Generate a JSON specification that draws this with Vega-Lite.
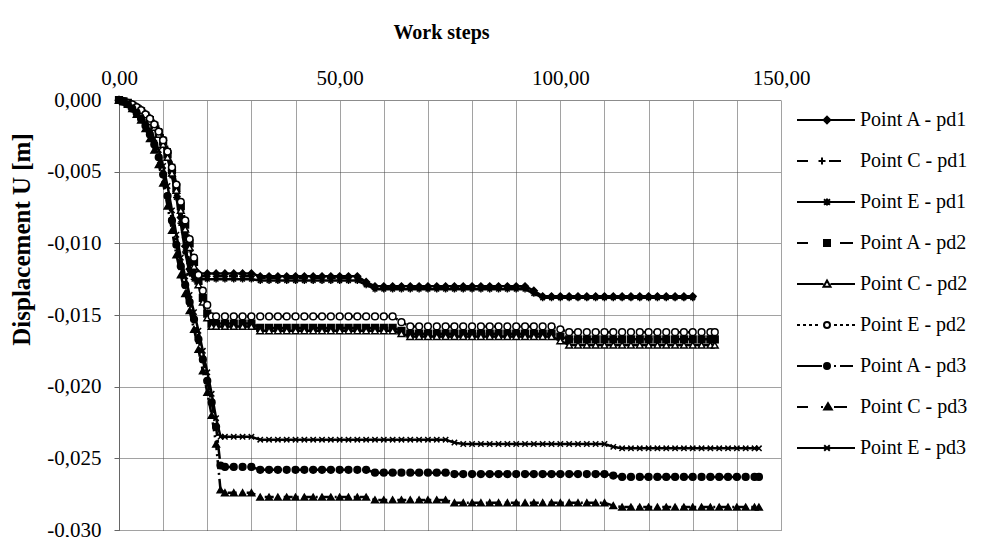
{
"$schema": "https://vega.github.io/schema/vega-lite/v6.json",
"width": 662, "height": 430,
"autosize": {"type": "none"},
"padding": {"left": 119, "top": 100, "right": 201, "bottom": 7},
"background": "white",
"config": {"view": {"stroke": null}, "font": "Liberation Serif",
 "axis": {"labelFont": "Liberation Serif", "titleFont": "Liberation Serif"},
 "legend": {"labelFont": "Liberation Serif", "titleFont": "Liberation Serif"}},
"data": {"values": [
{"s":"A1","x":0,"y":0},{"s":"A1","x":1,"y":-0.0001},{"s":"A1","x":2,"y":-0.0002},{"s":"A1","x":3,"y":-0.0003},{"s":"A1","x":4,"y":-0.0005},{"s":"A1","x":5,"y":-0.0007},{"s":"A1","x":6,"y":-0.001},{"s":"A1","x":7,"y":-0.0013},{"s":"A1","x":8,"y":-0.0017},{"s":"A1","x":9,"y":-0.0022},{"s":"A1","x":10,"y":-0.0028},{"s":"A1","x":11,"y":-0.0037},{"s":"A1","x":12,"y":-0.0049},{"s":"A1","x":13,"y":-0.0064},{"s":"A1","x":14,"y":-0.0082},{"s":"A1","x":15,"y":-0.0102},{"s":"A1","x":16,"y":-0.0118},{"s":"A1","x":17,"y":-0.0121},
{"s":"A1","x":18,"y":-0.0121},{"s":"A1","x":20,"y":-0.0121},{"s":"A1","x":22,"y":-0.0121},{"s":"A1","x":24,"y":-0.0121},{"s":"A1","x":26,"y":-0.0121},{"s":"A1","x":28,"y":-0.0121},{"s":"A1","x":30,"y":-0.0121},{"s":"A1","x":32,"y":-0.0123},{"s":"A1","x":34,"y":-0.0123},{"s":"A1","x":36,"y":-0.0123},{"s":"A1","x":38,"y":-0.0123},{"s":"A1","x":40,"y":-0.0123},{"s":"A1","x":42,"y":-0.0123},{"s":"A1","x":44,"y":-0.0123},{"s":"A1","x":46,"y":-0.0123},{"s":"A1","x":48,"y":-0.0123},{"s":"A1","x":50,"y":-0.0123},{"s":"A1","x":52,"y":-0.0123},{"s":"A1","x":54,"y":-0.0123},{"s":"A1","x":56,"y":-0.0127},{"s":"A1","x":58,"y":-0.013},{"s":"A1","x":60,"y":-0.013},{"s":"A1","x":62,"y":-0.013},{"s":"A1","x":64,"y":-0.013},{"s":"A1","x":66,"y":-0.013},{"s":"A1","x":68,"y":-0.013},{"s":"A1","x":70,"y":-0.013},{"s":"A1","x":72,"y":-0.013},{"s":"A1","x":74,"y":-0.013},{"s":"A1","x":76,"y":-0.013},{"s":"A1","x":78,"y":-0.013},{"s":"A1","x":80,"y":-0.013},{"s":"A1","x":82,"y":-0.013},{"s":"A1","x":84,"y":-0.013},{"s":"A1","x":86,"y":-0.013},{"s":"A1","x":88,"y":-0.013},{"s":"A1","x":90,"y":-0.013},{"s":"A1","x":92,"y":-0.013},{"s":"A1","x":94,"y":-0.0133},{"s":"A1","x":96,"y":-0.0137},{"s":"A1","x":98,"y":-0.0137},{"s":"A1","x":100,"y":-0.0137},{"s":"A1","x":102,"y":-0.0137},{"s":"A1","x":104,"y":-0.0137},{"s":"A1","x":106,"y":-0.0137},{"s":"A1","x":108,"y":-0.0137},{"s":"A1","x":110,"y":-0.0137},{"s":"A1","x":112,"y":-0.0137},{"s":"A1","x":114,"y":-0.0137},{"s":"A1","x":116,"y":-0.0137},{"s":"A1","x":118,"y":-0.0137},{"s":"A1","x":120,"y":-0.0137},{"s":"A1","x":122,"y":-0.0137},{"s":"A1","x":124,"y":-0.0137},{"s":"A1","x":126,"y":-0.0137},{"s":"A1","x":128,"y":-0.0137},{"s":"A1","x":130,"y":-0.0137},
{"s":"C1","x":0,"y":0},{"s":"C1","x":1,"y":-0.0001},{"s":"C1","x":2,"y":-0.0002},{"s":"C1","x":3,"y":-0.0003},{"s":"C1","x":4,"y":-0.0004},{"s":"C1","x":5,"y":-0.0006},{"s":"C1","x":6,"y":-0.0009},{"s":"C1","x":7,"y":-0.0012},{"s":"C1","x":8,"y":-0.0016},{"s":"C1","x":9,"y":-0.002},{"s":"C1","x":10,"y":-0.0026},{"s":"C1","x":11,"y":-0.0034},{"s":"C1","x":12,"y":-0.0045},{"s":"C1","x":13,"y":-0.0059},{"s":"C1","x":14,"y":-0.0076},{"s":"C1","x":15,"y":-0.0096},{"s":"C1","x":16,"y":-0.0114},{"s":"C1","x":17,"y":-0.0123},
{"s":"C1","x":18,"y":-0.0123},{"s":"C1","x":20,"y":-0.0123},{"s":"C1","x":22,"y":-0.0123},{"s":"C1","x":24,"y":-0.0123},{"s":"C1","x":26,"y":-0.0123},{"s":"C1","x":28,"y":-0.0123},{"s":"C1","x":30,"y":-0.0123},{"s":"C1","x":32,"y":-0.0124},{"s":"C1","x":34,"y":-0.0124},{"s":"C1","x":36,"y":-0.0124},{"s":"C1","x":38,"y":-0.0124},{"s":"C1","x":40,"y":-0.0124},{"s":"C1","x":42,"y":-0.0124},{"s":"C1","x":44,"y":-0.0124},{"s":"C1","x":46,"y":-0.0124},{"s":"C1","x":48,"y":-0.0124},{"s":"C1","x":50,"y":-0.0124},{"s":"C1","x":52,"y":-0.0124},{"s":"C1","x":54,"y":-0.0124},{"s":"C1","x":56,"y":-0.0128},{"s":"C1","x":58,"y":-0.0131},{"s":"C1","x":60,"y":-0.0131},{"s":"C1","x":62,"y":-0.0131},{"s":"C1","x":64,"y":-0.0131},{"s":"C1","x":66,"y":-0.0131},{"s":"C1","x":68,"y":-0.0131},{"s":"C1","x":70,"y":-0.0131},{"s":"C1","x":72,"y":-0.0131},{"s":"C1","x":74,"y":-0.0131},{"s":"C1","x":76,"y":-0.0131},{"s":"C1","x":78,"y":-0.0131},{"s":"C1","x":80,"y":-0.0131},{"s":"C1","x":82,"y":-0.0131},{"s":"C1","x":84,"y":-0.0131},{"s":"C1","x":86,"y":-0.0131},{"s":"C1","x":88,"y":-0.0131},{"s":"C1","x":90,"y":-0.0131},{"s":"C1","x":92,"y":-0.0131},{"s":"C1","x":94,"y":-0.0134},{"s":"C1","x":96,"y":-0.0137},{"s":"C1","x":98,"y":-0.0137},{"s":"C1","x":100,"y":-0.0137},{"s":"C1","x":102,"y":-0.0137},{"s":"C1","x":104,"y":-0.0137},{"s":"C1","x":106,"y":-0.0137},{"s":"C1","x":108,"y":-0.0137},{"s":"C1","x":110,"y":-0.0137},{"s":"C1","x":112,"y":-0.0137},{"s":"C1","x":114,"y":-0.0137},{"s":"C1","x":116,"y":-0.0137},{"s":"C1","x":118,"y":-0.0137},{"s":"C1","x":120,"y":-0.0137},{"s":"C1","x":122,"y":-0.0137},{"s":"C1","x":124,"y":-0.0137},{"s":"C1","x":126,"y":-0.0137},{"s":"C1","x":128,"y":-0.0137},{"s":"C1","x":130,"y":-0.0137},
{"s":"E1","x":0,"y":0},{"s":"E1","x":1,"y":-0.0001},{"s":"E1","x":2,"y":-0.0002},{"s":"E1","x":3,"y":-0.0004},{"s":"E1","x":4,"y":-0.0005},{"s":"E1","x":5,"y":-0.0008},{"s":"E1","x":6,"y":-0.0011},{"s":"E1","x":7,"y":-0.0014},{"s":"E1","x":8,"y":-0.0019},{"s":"E1","x":9,"y":-0.0024},{"s":"E1","x":10,"y":-0.003},{"s":"E1","x":11,"y":-0.004},{"s":"E1","x":12,"y":-0.0053},{"s":"E1","x":13,"y":-0.0068},{"s":"E1","x":14,"y":-0.0086},{"s":"E1","x":15,"y":-0.0106},{"s":"E1","x":16,"y":-0.0121},{"s":"E1","x":17,"y":-0.0125},
{"s":"E1","x":18,"y":-0.0125},{"s":"E1","x":20,"y":-0.0125},{"s":"E1","x":22,"y":-0.0125},{"s":"E1","x":24,"y":-0.0125},{"s":"E1","x":26,"y":-0.0125},{"s":"E1","x":28,"y":-0.0125},{"s":"E1","x":30,"y":-0.0125},{"s":"E1","x":32,"y":-0.0126},{"s":"E1","x":34,"y":-0.0126},{"s":"E1","x":36,"y":-0.0126},{"s":"E1","x":38,"y":-0.0126},{"s":"E1","x":40,"y":-0.0126},{"s":"E1","x":42,"y":-0.0126},{"s":"E1","x":44,"y":-0.0126},{"s":"E1","x":46,"y":-0.0126},{"s":"E1","x":48,"y":-0.0126},{"s":"E1","x":50,"y":-0.0126},{"s":"E1","x":52,"y":-0.0126},{"s":"E1","x":54,"y":-0.0126},{"s":"E1","x":56,"y":-0.0129},{"s":"E1","x":58,"y":-0.0132},{"s":"E1","x":60,"y":-0.0132},{"s":"E1","x":62,"y":-0.0132},{"s":"E1","x":64,"y":-0.0132},{"s":"E1","x":66,"y":-0.0132},{"s":"E1","x":68,"y":-0.0132},{"s":"E1","x":70,"y":-0.0132},{"s":"E1","x":72,"y":-0.0132},{"s":"E1","x":74,"y":-0.0132},{"s":"E1","x":76,"y":-0.0132},{"s":"E1","x":78,"y":-0.0132},{"s":"E1","x":80,"y":-0.0132},{"s":"E1","x":82,"y":-0.0132},{"s":"E1","x":84,"y":-0.0132},{"s":"E1","x":86,"y":-0.0132},{"s":"E1","x":88,"y":-0.0132},{"s":"E1","x":90,"y":-0.0132},{"s":"E1","x":92,"y":-0.0132},{"s":"E1","x":94,"y":-0.0135},{"s":"E1","x":96,"y":-0.0138},{"s":"E1","x":98,"y":-0.0138},{"s":"E1","x":100,"y":-0.0138},{"s":"E1","x":102,"y":-0.0138},{"s":"E1","x":104,"y":-0.0138},{"s":"E1","x":106,"y":-0.0138},{"s":"E1","x":108,"y":-0.0138},{"s":"E1","x":110,"y":-0.0138},{"s":"E1","x":112,"y":-0.0138},{"s":"E1","x":114,"y":-0.0138},{"s":"E1","x":116,"y":-0.0138},{"s":"E1","x":118,"y":-0.0138},{"s":"E1","x":120,"y":-0.0138},{"s":"E1","x":122,"y":-0.0138},{"s":"E1","x":124,"y":-0.0138},{"s":"E1","x":126,"y":-0.0138},{"s":"E1","x":128,"y":-0.0138},{"s":"E1","x":130,"y":-0.0138},
{"s":"A2","x":0,"y":0},{"s":"A2","x":1,"y":-0.0001},{"s":"A2","x":2,"y":-0.0002},{"s":"A2","x":3,"y":-0.0004},{"s":"A2","x":4,"y":-0.0006},{"s":"A2","x":5,"y":-0.0008},{"s":"A2","x":6,"y":-0.0011},{"s":"A2","x":7,"y":-0.0014},{"s":"A2","x":8,"y":-0.0018},{"s":"A2","x":9,"y":-0.0023},{"s":"A2","x":10,"y":-0.0029},{"s":"A2","x":11,"y":-0.0038},{"s":"A2","x":12,"y":-0.0049},{"s":"A2","x":13,"y":-0.0061},{"s":"A2","x":14,"y":-0.0074},{"s":"A2","x":15,"y":-0.0087},{"s":"A2","x":16,"y":-0.01},{"s":"A2","x":17,"y":-0.0113},{"s":"A2","x":18,"y":-0.0126},{"s":"A2","x":19,"y":-0.0138},{"s":"A2","x":20,"y":-0.0149},{"s":"A2","x":21,"y":-0.0156},
{"s":"A2","x":22,"y":-0.0156},{"s":"A2","x":24,"y":-0.0156},{"s":"A2","x":26,"y":-0.0156},{"s":"A2","x":28,"y":-0.0156},{"s":"A2","x":30,"y":-0.0156},{"s":"A2","x":32,"y":-0.0159},{"s":"A2","x":34,"y":-0.0159},{"s":"A2","x":36,"y":-0.0159},{"s":"A2","x":38,"y":-0.0159},{"s":"A2","x":40,"y":-0.0159},{"s":"A2","x":42,"y":-0.0159},{"s":"A2","x":44,"y":-0.0159},{"s":"A2","x":46,"y":-0.0159},{"s":"A2","x":48,"y":-0.0159},{"s":"A2","x":50,"y":-0.0159},{"s":"A2","x":52,"y":-0.0159},{"s":"A2","x":54,"y":-0.0159},{"s":"A2","x":56,"y":-0.0159},{"s":"A2","x":58,"y":-0.0159},{"s":"A2","x":60,"y":-0.0159},{"s":"A2","x":62,"y":-0.0159},{"s":"A2","x":64,"y":-0.0161},{"s":"A2","x":66,"y":-0.0163},{"s":"A2","x":68,"y":-0.0163},{"s":"A2","x":70,"y":-0.0163},{"s":"A2","x":72,"y":-0.0163},{"s":"A2","x":74,"y":-0.0163},{"s":"A2","x":76,"y":-0.0163},{"s":"A2","x":78,"y":-0.0163},{"s":"A2","x":80,"y":-0.0163},{"s":"A2","x":82,"y":-0.0163},{"s":"A2","x":84,"y":-0.0163},{"s":"A2","x":86,"y":-0.0163},{"s":"A2","x":88,"y":-0.0163},{"s":"A2","x":90,"y":-0.0163},{"s":"A2","x":92,"y":-0.0163},{"s":"A2","x":94,"y":-0.0163},{"s":"A2","x":96,"y":-0.0163},{"s":"A2","x":98,"y":-0.0163},{"s":"A2","x":100,"y":-0.0165},{"s":"A2","x":102,"y":-0.0167},{"s":"A2","x":104,"y":-0.0167},{"s":"A2","x":106,"y":-0.0167},{"s":"A2","x":108,"y":-0.0167},{"s":"A2","x":110,"y":-0.0167},{"s":"A2","x":112,"y":-0.0167},{"s":"A2","x":114,"y":-0.0167},{"s":"A2","x":116,"y":-0.0167},{"s":"A2","x":118,"y":-0.0167},{"s":"A2","x":120,"y":-0.0167},{"s":"A2","x":122,"y":-0.0167},{"s":"A2","x":124,"y":-0.0167},{"s":"A2","x":126,"y":-0.0167},{"s":"A2","x":128,"y":-0.0167},{"s":"A2","x":130,"y":-0.0167},{"s":"A2","x":132,"y":-0.0167},{"s":"A2","x":134,"y":-0.0167},{"s":"A2","x":135,"y":-0.0167},
{"s":"C2","x":0,"y":0},{"s":"C2","x":1,"y":-0.0001},{"s":"C2","x":2,"y":-0.0002},{"s":"C2","x":3,"y":-0.0004},{"s":"C2","x":4,"y":-0.0006},{"s":"C2","x":5,"y":-0.0009},{"s":"C2","x":6,"y":-0.0012},{"s":"C2","x":7,"y":-0.0015},{"s":"C2","x":8,"y":-0.0019},{"s":"C2","x":9,"y":-0.0024},{"s":"C2","x":10,"y":-0.0031},{"s":"C2","x":11,"y":-0.004},{"s":"C2","x":12,"y":-0.0051},{"s":"C2","x":13,"y":-0.0063},{"s":"C2","x":14,"y":-0.0077},{"s":"C2","x":15,"y":-0.009},{"s":"C2","x":16,"y":-0.0103},{"s":"C2","x":17,"y":-0.0116},{"s":"C2","x":18,"y":-0.0129},{"s":"C2","x":19,"y":-0.0141},{"s":"C2","x":20,"y":-0.0152},{"s":"C2","x":21,"y":-0.0158},
{"s":"C2","x":22,"y":-0.0158},{"s":"C2","x":24,"y":-0.0158},{"s":"C2","x":26,"y":-0.0158},{"s":"C2","x":28,"y":-0.0158},{"s":"C2","x":30,"y":-0.0158},{"s":"C2","x":32,"y":-0.0161},{"s":"C2","x":34,"y":-0.0161},{"s":"C2","x":36,"y":-0.0161},{"s":"C2","x":38,"y":-0.0161},{"s":"C2","x":40,"y":-0.0161},{"s":"C2","x":42,"y":-0.0161},{"s":"C2","x":44,"y":-0.0161},{"s":"C2","x":46,"y":-0.0161},{"s":"C2","x":48,"y":-0.0161},{"s":"C2","x":50,"y":-0.0161},{"s":"C2","x":52,"y":-0.0161},{"s":"C2","x":54,"y":-0.0161},{"s":"C2","x":56,"y":-0.0161},{"s":"C2","x":58,"y":-0.0161},{"s":"C2","x":60,"y":-0.0161},{"s":"C2","x":62,"y":-0.0161},{"s":"C2","x":64,"y":-0.0163},{"s":"C2","x":66,"y":-0.0165},{"s":"C2","x":68,"y":-0.0165},{"s":"C2","x":70,"y":-0.0165},{"s":"C2","x":72,"y":-0.0165},{"s":"C2","x":74,"y":-0.0165},{"s":"C2","x":76,"y":-0.0165},{"s":"C2","x":78,"y":-0.0165},{"s":"C2","x":80,"y":-0.0165},{"s":"C2","x":82,"y":-0.0165},{"s":"C2","x":84,"y":-0.0165},{"s":"C2","x":86,"y":-0.0165},{"s":"C2","x":88,"y":-0.0165},{"s":"C2","x":90,"y":-0.0165},{"s":"C2","x":92,"y":-0.0165},{"s":"C2","x":94,"y":-0.0165},{"s":"C2","x":96,"y":-0.0165},{"s":"C2","x":98,"y":-0.0165},{"s":"C2","x":100,"y":-0.0168},{"s":"C2","x":102,"y":-0.0171},{"s":"C2","x":104,"y":-0.0171},{"s":"C2","x":106,"y":-0.0171},{"s":"C2","x":108,"y":-0.0171},{"s":"C2","x":110,"y":-0.0171},{"s":"C2","x":112,"y":-0.0171},{"s":"C2","x":114,"y":-0.0171},{"s":"C2","x":116,"y":-0.0171},{"s":"C2","x":118,"y":-0.0171},{"s":"C2","x":120,"y":-0.0171},{"s":"C2","x":122,"y":-0.0171},{"s":"C2","x":124,"y":-0.0171},{"s":"C2","x":126,"y":-0.0171},{"s":"C2","x":128,"y":-0.0171},{"s":"C2","x":130,"y":-0.0171},{"s":"C2","x":132,"y":-0.0171},{"s":"C2","x":134,"y":-0.0171},{"s":"C2","x":135,"y":-0.0171},
{"s":"E2","x":0,"y":0},{"s":"E2","x":1,"y":-0.0001},{"s":"E2","x":2,"y":-0.0002},{"s":"E2","x":3,"y":-0.0003},{"s":"E2","x":4,"y":-0.0005},{"s":"E2","x":5,"y":-0.0007},{"s":"E2","x":6,"y":-0.001},{"s":"E2","x":7,"y":-0.0013},{"s":"E2","x":8,"y":-0.0017},{"s":"E2","x":9,"y":-0.0022},{"s":"E2","x":10,"y":-0.0028},{"s":"E2","x":11,"y":-0.0036},{"s":"E2","x":12,"y":-0.0047},{"s":"E2","x":13,"y":-0.0059},{"s":"E2","x":14,"y":-0.0071},{"s":"E2","x":15,"y":-0.0084},{"s":"E2","x":16,"y":-0.0097},{"s":"E2","x":17,"y":-0.011},{"s":"E2","x":18,"y":-0.0122},{"s":"E2","x":19,"y":-0.0133},{"s":"E2","x":20,"y":-0.0143},{"s":"E2","x":21,"y":-0.0151},
{"s":"E2","x":22,"y":-0.0151},{"s":"E2","x":24,"y":-0.0151},{"s":"E2","x":26,"y":-0.0151},{"s":"E2","x":28,"y":-0.0151},{"s":"E2","x":30,"y":-0.0151},{"s":"E2","x":32,"y":-0.0151},{"s":"E2","x":34,"y":-0.0151},{"s":"E2","x":36,"y":-0.0151},{"s":"E2","x":38,"y":-0.0151},{"s":"E2","x":40,"y":-0.0151},{"s":"E2","x":42,"y":-0.0151},{"s":"E2","x":44,"y":-0.0151},{"s":"E2","x":46,"y":-0.0151},{"s":"E2","x":48,"y":-0.0151},{"s":"E2","x":50,"y":-0.0151},{"s":"E2","x":52,"y":-0.0151},{"s":"E2","x":54,"y":-0.0151},{"s":"E2","x":56,"y":-0.0151},{"s":"E2","x":58,"y":-0.0151},{"s":"E2","x":60,"y":-0.0151},{"s":"E2","x":62,"y":-0.0151},{"s":"E2","x":64,"y":-0.0155},{"s":"E2","x":66,"y":-0.0158},{"s":"E2","x":68,"y":-0.0158},{"s":"E2","x":70,"y":-0.0158},{"s":"E2","x":72,"y":-0.0158},{"s":"E2","x":74,"y":-0.0158},{"s":"E2","x":76,"y":-0.0158},{"s":"E2","x":78,"y":-0.0158},{"s":"E2","x":80,"y":-0.0158},{"s":"E2","x":82,"y":-0.0158},{"s":"E2","x":84,"y":-0.0158},{"s":"E2","x":86,"y":-0.0158},{"s":"E2","x":88,"y":-0.0158},{"s":"E2","x":90,"y":-0.0158},{"s":"E2","x":92,"y":-0.0158},{"s":"E2","x":94,"y":-0.0158},{"s":"E2","x":96,"y":-0.0158},{"s":"E2","x":98,"y":-0.0158},{"s":"E2","x":100,"y":-0.016},{"s":"E2","x":102,"y":-0.0162},{"s":"E2","x":104,"y":-0.0162},{"s":"E2","x":106,"y":-0.0162},{"s":"E2","x":108,"y":-0.0162},{"s":"E2","x":110,"y":-0.0162},{"s":"E2","x":112,"y":-0.0162},{"s":"E2","x":114,"y":-0.0162},{"s":"E2","x":116,"y":-0.0162},{"s":"E2","x":118,"y":-0.0162},{"s":"E2","x":120,"y":-0.0162},{"s":"E2","x":122,"y":-0.0162},{"s":"E2","x":124,"y":-0.0162},{"s":"E2","x":126,"y":-0.0162},{"s":"E2","x":128,"y":-0.0162},{"s":"E2","x":130,"y":-0.0162},{"s":"E2","x":132,"y":-0.0162},{"s":"E2","x":134,"y":-0.0162},{"s":"E2","x":135,"y":-0.0162},
{"s":"A3","x":0,"y":0},{"s":"A3","x":1,"y":-0.0001},{"s":"A3","x":2,"y":-0.0003},{"s":"A3","x":3,"y":-0.0006},{"s":"A3","x":4,"y":-0.0009},{"s":"A3","x":5,"y":-0.0013},{"s":"A3","x":6,"y":-0.0018},{"s":"A3","x":7,"y":-0.0024},{"s":"A3","x":8,"y":-0.0031},{"s":"A3","x":9,"y":-0.004},{"s":"A3","x":10,"y":-0.0052},{"s":"A3","x":11,"y":-0.0067},{"s":"A3","x":12,"y":-0.0084},{"s":"A3","x":13,"y":-0.0101},{"s":"A3","x":14,"y":-0.0116},{"s":"A3","x":15,"y":-0.0129},{"s":"A3","x":16,"y":-0.0141},{"s":"A3","x":17,"y":-0.0153},{"s":"A3","x":18,"y":-0.0167},{"s":"A3","x":19,"y":-0.0181},{"s":"A3","x":20,"y":-0.0196},{"s":"A3","x":21,"y":-0.0211},{"s":"A3","x":22,"y":-0.0228},{"s":"A3","x":23,"y":-0.0255},
{"s":"A3","x":24,"y":-0.0256},{"s":"A3","x":26,"y":-0.0256},{"s":"A3","x":28,"y":-0.0256},{"s":"A3","x":30,"y":-0.0256},{"s":"A3","x":32,"y":-0.0258},{"s":"A3","x":34,"y":-0.0258},{"s":"A3","x":36,"y":-0.0258},{"s":"A3","x":38,"y":-0.0258},{"s":"A3","x":40,"y":-0.0258},{"s":"A3","x":42,"y":-0.0258},{"s":"A3","x":44,"y":-0.0258},{"s":"A3","x":46,"y":-0.0258},{"s":"A3","x":48,"y":-0.0258},{"s":"A3","x":50,"y":-0.0258},{"s":"A3","x":52,"y":-0.0258},{"s":"A3","x":54,"y":-0.0258},{"s":"A3","x":56,"y":-0.0258},{"s":"A3","x":58,"y":-0.026},{"s":"A3","x":60,"y":-0.026},{"s":"A3","x":62,"y":-0.026},{"s":"A3","x":64,"y":-0.026},{"s":"A3","x":66,"y":-0.026},{"s":"A3","x":68,"y":-0.026},{"s":"A3","x":70,"y":-0.026},{"s":"A3","x":72,"y":-0.026},{"s":"A3","x":74,"y":-0.026},{"s":"A3","x":76,"y":-0.0261},{"s":"A3","x":78,"y":-0.0261},{"s":"A3","x":80,"y":-0.0261},{"s":"A3","x":82,"y":-0.0261},{"s":"A3","x":84,"y":-0.0261},{"s":"A3","x":86,"y":-0.0261},{"s":"A3","x":88,"y":-0.0261},{"s":"A3","x":90,"y":-0.0261},{"s":"A3","x":92,"y":-0.0261},{"s":"A3","x":94,"y":-0.0261},{"s":"A3","x":96,"y":-0.0261},{"s":"A3","x":98,"y":-0.0261},{"s":"A3","x":100,"y":-0.0261},{"s":"A3","x":102,"y":-0.0261},{"s":"A3","x":104,"y":-0.0261},{"s":"A3","x":106,"y":-0.0261},{"s":"A3","x":108,"y":-0.0261},{"s":"A3","x":110,"y":-0.0261},{"s":"A3","x":112,"y":-0.0262},{"s":"A3","x":114,"y":-0.0263},{"s":"A3","x":116,"y":-0.0263},{"s":"A3","x":118,"y":-0.0263},{"s":"A3","x":120,"y":-0.0263},{"s":"A3","x":122,"y":-0.0263},{"s":"A3","x":124,"y":-0.0263},{"s":"A3","x":126,"y":-0.0263},{"s":"A3","x":128,"y":-0.0263},{"s":"A3","x":130,"y":-0.0263},{"s":"A3","x":132,"y":-0.0263},{"s":"A3","x":134,"y":-0.0263},{"s":"A3","x":136,"y":-0.0263},{"s":"A3","x":138,"y":-0.0263},{"s":"A3","x":140,"y":-0.0263},{"s":"A3","x":142,"y":-0.0263},{"s":"A3","x":144,"y":-0.0263},{"s":"A3","x":145,"y":-0.0263},
{"s":"C3","x":0,"y":0},{"s":"C3","x":1,"y":-0.0001},{"s":"C3","x":2,"y":-0.0003},{"s":"C3","x":3,"y":-0.0006},{"s":"C3","x":4,"y":-0.001},{"s":"C3","x":5,"y":-0.0014},{"s":"C3","x":6,"y":-0.002},{"s":"C3","x":7,"y":-0.0027},{"s":"C3","x":8,"y":-0.0035},{"s":"C3","x":9,"y":-0.0045},{"s":"C3","x":10,"y":-0.0058},{"s":"C3","x":11,"y":-0.0074},{"s":"C3","x":12,"y":-0.0091},{"s":"C3","x":13,"y":-0.0108},{"s":"C3","x":14,"y":-0.0122},{"s":"C3","x":15,"y":-0.0135},{"s":"C3","x":16,"y":-0.0147},{"s":"C3","x":17,"y":-0.016},{"s":"C3","x":18,"y":-0.0174},{"s":"C3","x":19,"y":-0.0189},{"s":"C3","x":20,"y":-0.0204},{"s":"C3","x":21,"y":-0.022},{"s":"C3","x":22,"y":-0.024},{"s":"C3","x":23,"y":-0.0272},
{"s":"C3","x":24,"y":-0.0274},{"s":"C3","x":26,"y":-0.0274},{"s":"C3","x":28,"y":-0.0274},{"s":"C3","x":30,"y":-0.0274},{"s":"C3","x":32,"y":-0.0277},{"s":"C3","x":34,"y":-0.0277},{"s":"C3","x":36,"y":-0.0277},{"s":"C3","x":38,"y":-0.0277},{"s":"C3","x":40,"y":-0.0277},{"s":"C3","x":42,"y":-0.0277},{"s":"C3","x":44,"y":-0.0277},{"s":"C3","x":46,"y":-0.0277},{"s":"C3","x":48,"y":-0.0277},{"s":"C3","x":50,"y":-0.0277},{"s":"C3","x":52,"y":-0.0277},{"s":"C3","x":54,"y":-0.0277},{"s":"C3","x":56,"y":-0.0277},{"s":"C3","x":58,"y":-0.0279},{"s":"C3","x":60,"y":-0.0279},{"s":"C3","x":62,"y":-0.0279},{"s":"C3","x":64,"y":-0.0279},{"s":"C3","x":66,"y":-0.0279},{"s":"C3","x":68,"y":-0.0279},{"s":"C3","x":70,"y":-0.0279},{"s":"C3","x":72,"y":-0.0279},{"s":"C3","x":74,"y":-0.0279},{"s":"C3","x":76,"y":-0.0281},{"s":"C3","x":78,"y":-0.0281},{"s":"C3","x":80,"y":-0.0281},{"s":"C3","x":82,"y":-0.0281},{"s":"C3","x":84,"y":-0.0281},{"s":"C3","x":86,"y":-0.0281},{"s":"C3","x":88,"y":-0.0281},{"s":"C3","x":90,"y":-0.0281},{"s":"C3","x":92,"y":-0.0281},{"s":"C3","x":94,"y":-0.0281},{"s":"C3","x":96,"y":-0.0281},{"s":"C3","x":98,"y":-0.0281},{"s":"C3","x":100,"y":-0.0281},{"s":"C3","x":102,"y":-0.0281},{"s":"C3","x":104,"y":-0.0281},{"s":"C3","x":106,"y":-0.0281},{"s":"C3","x":108,"y":-0.0281},{"s":"C3","x":110,"y":-0.0281},{"s":"C3","x":112,"y":-0.0283},{"s":"C3","x":114,"y":-0.0284},{"s":"C3","x":116,"y":-0.0284},{"s":"C3","x":118,"y":-0.0284},{"s":"C3","x":120,"y":-0.0284},{"s":"C3","x":122,"y":-0.0284},{"s":"C3","x":124,"y":-0.0284},{"s":"C3","x":126,"y":-0.0284},{"s":"C3","x":128,"y":-0.0284},{"s":"C3","x":130,"y":-0.0284},{"s":"C3","x":132,"y":-0.0284},{"s":"C3","x":134,"y":-0.0284},{"s":"C3","x":136,"y":-0.0284},{"s":"C3","x":138,"y":-0.0284},{"s":"C3","x":140,"y":-0.0284},{"s":"C3","x":142,"y":-0.0284},{"s":"C3","x":144,"y":-0.0284},{"s":"C3","x":145,"y":-0.0284},
{"s":"E3","x":0,"y":0},{"s":"E3","x":1,"y":-0.0001},{"s":"E3","x":2,"y":-0.0002},{"s":"E3","x":3,"y":-0.0005},{"s":"E3","x":4,"y":-0.0008},{"s":"E3","x":5,"y":-0.0012},{"s":"E3","x":6,"y":-0.0016},{"s":"E3","x":7,"y":-0.0021},{"s":"E3","x":8,"y":-0.0027},{"s":"E3","x":9,"y":-0.0035},{"s":"E3","x":10,"y":-0.0046},{"s":"E3","x":11,"y":-0.006},{"s":"E3","x":12,"y":-0.0077},{"s":"E3","x":13,"y":-0.0094},{"s":"E3","x":14,"y":-0.011},{"s":"E3","x":15,"y":-0.0123},{"s":"E3","x":16,"y":-0.0136},{"s":"E3","x":17,"y":-0.0148},{"s":"E3","x":18,"y":-0.0161},{"s":"E3","x":19,"y":-0.0175},{"s":"E3","x":20,"y":-0.019},{"s":"E3","x":21,"y":-0.0205},{"s":"E3","x":22,"y":-0.0222},{"s":"E3","x":23,"y":-0.0235},
{"s":"E3","x":24,"y":-0.0235},{"s":"E3","x":26,"y":-0.0235},{"s":"E3","x":28,"y":-0.0235},{"s":"E3","x":30,"y":-0.0235},{"s":"E3","x":32,"y":-0.0237},{"s":"E3","x":34,"y":-0.0237},{"s":"E3","x":36,"y":-0.0237},{"s":"E3","x":38,"y":-0.0237},{"s":"E3","x":40,"y":-0.0237},{"s":"E3","x":42,"y":-0.0237},{"s":"E3","x":44,"y":-0.0237},{"s":"E3","x":46,"y":-0.0237},{"s":"E3","x":48,"y":-0.0237},{"s":"E3","x":50,"y":-0.0237},{"s":"E3","x":52,"y":-0.0237},{"s":"E3","x":54,"y":-0.0237},{"s":"E3","x":56,"y":-0.0237},{"s":"E3","x":58,"y":-0.0237},{"s":"E3","x":60,"y":-0.0237},{"s":"E3","x":62,"y":-0.0237},{"s":"E3","x":64,"y":-0.0237},{"s":"E3","x":66,"y":-0.0237},{"s":"E3","x":68,"y":-0.0237},{"s":"E3","x":70,"y":-0.0237},{"s":"E3","x":72,"y":-0.0237},{"s":"E3","x":74,"y":-0.0237},{"s":"E3","x":76,"y":-0.0239},{"s":"E3","x":78,"y":-0.024},{"s":"E3","x":80,"y":-0.024},{"s":"E3","x":82,"y":-0.024},{"s":"E3","x":84,"y":-0.024},{"s":"E3","x":86,"y":-0.024},{"s":"E3","x":88,"y":-0.024},{"s":"E3","x":90,"y":-0.024},{"s":"E3","x":92,"y":-0.024},{"s":"E3","x":94,"y":-0.024},{"s":"E3","x":96,"y":-0.024},{"s":"E3","x":98,"y":-0.024},{"s":"E3","x":100,"y":-0.024},{"s":"E3","x":102,"y":-0.024},{"s":"E3","x":104,"y":-0.024},{"s":"E3","x":106,"y":-0.024},{"s":"E3","x":108,"y":-0.024},{"s":"E3","x":110,"y":-0.024},{"s":"E3","x":112,"y":-0.0242},{"s":"E3","x":114,"y":-0.0243},{"s":"E3","x":116,"y":-0.0243},{"s":"E3","x":118,"y":-0.0243},{"s":"E3","x":120,"y":-0.0243},{"s":"E3","x":122,"y":-0.0243},{"s":"E3","x":124,"y":-0.0243},{"s":"E3","x":126,"y":-0.0243},{"s":"E3","x":128,"y":-0.0243},{"s":"E3","x":130,"y":-0.0243},{"s":"E3","x":132,"y":-0.0243},{"s":"E3","x":134,"y":-0.0243},{"s":"E3","x":136,"y":-0.0243},{"s":"E3","x":138,"y":-0.0243},{"s":"E3","x":140,"y":-0.0243},{"s":"E3","x":142,"y":-0.0243},{"s":"E3","x":144,"y":-0.0243},{"s":"E3","x":145,"y":-0.0243}
]},
"layer": [
{
"mark": {"type": "line", "color": "black", "strokeWidth": 2.5},
"encoding": {
"x": {"field": "x", "type": "quantitative", "scale": {"domain": [0, 150], "nice": false, "zero": false},
 "axis": {"orient": "top", "values": [0,10,20,30,40,50,60,70,80,90,100,110,120,130,140,150],
  "labelExpr": "datum.value % 50 === 0 ? replace(format(datum.value, '.2f'), '.', ',') : ''",
  "title": "Work steps", "titleFont": "Liberation Serif", "titleFontWeight": "bold", "titleFontSize": 20, "titleColor": "black",
  "titleX": 322, "titleY": -62, "titleBaseline": "alphabetic", "titleAlign": "center",
  "labelFont": "Liberation Serif", "labelFontSize": 21, "labelColor": "black", "labelPadding": 16, "labelBaseline": "alphabetic",
  "labelFlush": false, "labelOverlap": false,
  "ticks": false, "tickSize": 0, "domainColor": "#8c8c8c", "domainWidth": 1,
  "grid": true, "gridColor": "#444444", "gridDash": [1, 1], "gridWidth": 1}},
"y": {"field": "y", "type": "quantitative", "scale": {"domain": [-0.03, 0], "nice": false, "zero": false},
 "axis": {"values": [0, -0.005, -0.01, -0.015, -0.02, -0.025, -0.03],
  "labelExpr": "replace(replace(format(datum.value, '.3f'), '.', ','), '−', '-')",
  "title": "Displacement  U [m]", "titleFont": "Liberation Serif", "titleFontWeight": "bold", "titleFontSize": 25, "titleColor": "black",
  "titleX": -90, "titleY": 139, "titleBaseline": "alphabetic", "titleAlign": "center", "titleAngle": 270,
  "labelFont": "Liberation Serif", "labelFontSize": 21, "labelColor": "black", "labelPadding": 13,
  "labelFlush": false, "labelOverlap": false,
  "tickSize": 5, "tickColor": "#666666", "domainColor": "#666666", "domainWidth": 1,
  "grid": true, "gridColor": "#444444", "gridDash": [1, 1], "gridWidth": 1}},
"detail": {"field": "s", "type": "nominal"},
"strokeDash": {"field": "s", "type": "nominal",
 "scale": {"domain": ["A1","C1","E1","A2","C2","E2","A3","C3","E3"],
  "range": [[1,0],[9,5],[1,0],[9,5],[1,0],[2,3],[12,4,3,4],[9,4,2,4],[1,0]]}, "legend": null}
}
},
{
"mark": {"type": "point", "filled": true, "stroke": "black", "strokeWidth": 1.5, "size": 45, "opacity": 1},
"encoding": {
"x": {"field": "x", "type": "quantitative"},
"y": {"field": "y", "type": "quantitative"},
"shape": {"field": "s", "type": "nominal",
 "scale": {"domain": ["A1","C1","E1","A2","C2","E2","A3","C3","E3"],
  "range": ["diamond", "M-1,0H1M0,-1V1", "M-1,0H1M0,-1V1M-0.7,-0.7L0.7,0.7M-0.7,0.7L0.7,-0.7", "square", "triangle-up", "circle", "circle", "triangle-up", "M-0.8,-0.8L0.8,0.8M-0.8,0.8L0.8,-0.8"]}, "legend": null},
"fill": {"field": "s", "type": "nominal",
 "scale": {"domain": ["A1","C1","E1","A2","C2","E2","A3","C3","E3"],
  "range": ["black","black","black","black","white","white","black","black","black"]}, "legend": null}
}
},
{
"transform": [{"filter": "false"}],
"mark": {"type": "point", "filled": false, "stroke": "black", "strokeWidth": 2, "size": 400, "opacity": 1},
"encoding": {
"x": {"field": "x", "type": "quantitative"},
"y": {"field": "y", "type": "quantitative"},
"shape": {"field": "s", "type": "nominal",
 "scale": {"domain": ["A1","C1","E1","A2","C2","E2","A3","C3","E3"],
  "range": [
   "M-1,0H4.8M2,-0.33L2.33,0L2,0.33L1.67,0ZM2,-0.12L2.12,0L2,0.12L1.88,0Z",
   "M-1,0H0.1M1.5,-0.35V0.35M1.15,0H1.85M2.2,0H3.4",
   "M-1,0H4.8M2,-0.35V0.35M1.7,-0.28L2.3,0.28M1.7,0.28L2.3,-0.28",
   "M-1,0H0.1M3.3,0H4.6M1.7,-0.3H2.3V0.3H1.7ZM1.9,-0.1H2.1V0.1H1.9Z",
   "M-1,0H1.65M2.35,0H4.8M2,-0.35L2.35,0.28H1.65Z",
   "M-1,0H-0.7M-0.4,0H-0.1M0.2,0H0.5M0.8,0H1.1M2.3,0A0.3,0.3 0 1,1 1.7,0A0.3,0.3 0 1,1 2.3,0ZM2.7,0H3M3.3,0H3.6M3.9,0H4.2M4.5,0H4.8",
   "M-1,0H1.5M2.3,0A0.3,0.3 0 1,1 1.7,0A0.3,0.3 0 1,1 2.3,0ZM2.1,0A0.1,0.1 0 1,1 1.9,0A0.1,0.1 0 1,1 2.1,0ZM2.7,0H2.9M3.3,0H4.6",
   "M-1,0H0.1M1.4,0H1.6M2.1,-0.38L2.48,0.26H1.72ZM2.1,-0.1L2.22,0.14H1.98ZM2.7,0H4",
   "M-1,0H4.8M1.72,-0.28L2.28,0.28M1.72,0.28L2.28,-0.28"]},
 "legend": {"title": null, "orient": "none", "legendX": 677, "legendY": 9, "padding": 0,
  "labelFont": "Liberation Serif", "labelFontSize": 20, "labelColor": "black", "labelOffset": 42, "rowPadding": 20,
  "symbolSize": 400, "symbolStrokeWidth": 2, "symbolStrokeColor": "black", "symbolFillColor": "transparent",
  "labelExpr": "'Point ' + substring(datum.label, 0, 1) + ' - pd' + substring(datum.label, 1, 2)"}}
}
}
],
"resolve": {"scale": {"shape": "independent", "fill": "independent"}, "legend": {"shape": "independent", "fill": "independent"}}
}
